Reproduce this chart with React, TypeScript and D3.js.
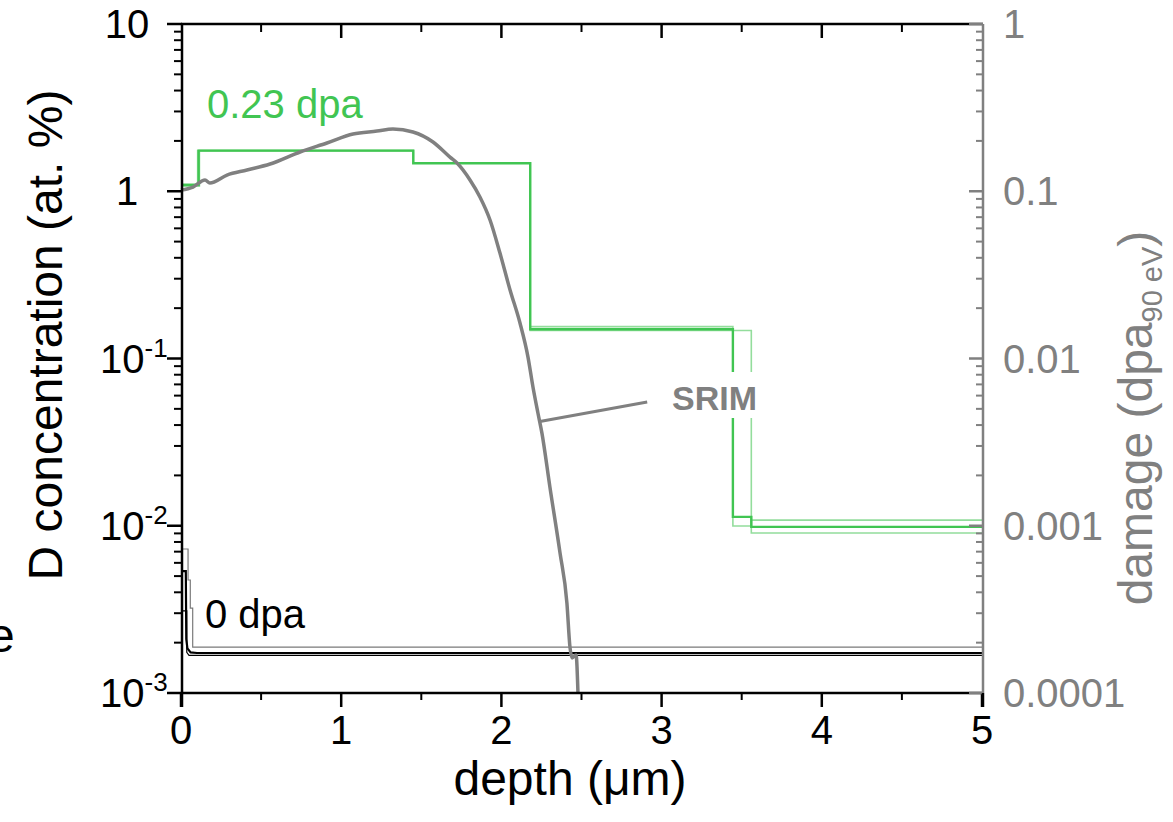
import React from "react";
import * as d3 from "d3";

// ---- data ----
const xTicks = [0, 1, 2, 3, 4, 5];
const leftTicks = [1e-3, 1e-2, 1e-1, 1, 10];
const leftExp = ["-3", "-2", "-1", "", ""];
const rightTicks = [1e-4, 1e-3, 1e-2, 1e-1, 1];
const rightLabels = ["0.0001", "0.001", "0.01", "0.1", "1"];

// 0.23 dpa (green) step profiles: depth (µm), D concentration (at.%)
const greenMainDepth = [0, 0.11, 1.45, 2.18, 3.445, 3.56, 5];
const greenMainConc = [1.09, 1.75, 1.47, 0.1495, 0.0113, 0.00985, 0.00985];
const greenADepth = [0, 0.104, 1.45, 2.18, 3.445, 3.56, 5];
const greenAConc = [1.1, 1.75, 1.47, 0.155, 0.00997, 0.0108, 0.0108];
const greenBDepth = [0, 0.115, 1.45, 2.18, 3.56, 5];
const greenBConc = [1.075, 1.75, 1.47, 0.147, 0.00905, 0.00905];

// 0 dpa (black/grey) profiles
const zeroGreyDepth = [0, 0.044, 0.058, 0.073, 5];
const zeroGreyConc = [0.00726, 0.00474, 0.00322, 0.00188, 0.00188];
const zeroThickDepth = [0, 0.03, 0.033, 0.04, 0.06, 0.1, 5];
const zeroThickConc = [0.00536, 0.00536, 0.0021, 0.00185, 0.00175, 0.001734, 0.001734];
const zeroThinDepth = [0, 0.036, 0.036, 0.05, 5];
const zeroThinConc = [0.0031, 0.0031, 0.00175, 0.00168, 0.00168];

// SRIM damage profile (dpa)
const srimDepth = [0, 0.075, 0.15, 0.18, 0.287, 0.412, 0.556, 0.743, 0.911, 1.074, 1.223, 1.323, 1.448, 1.573, 1.679, 1.723, 1.804, 1.866, 1.929, 1.991, 2.054, 2.116, 2.166, 2.197, 2.228, 2.253, 2.303, 2.366, 2.409, 2.428, 2.441, 2.466, 2.478];
const srimDamage = [0.1017, 0.106, 0.1168, 0.112, 0.125, 0.134, 0.1455, 0.1717, 0.1943, 0.22, 0.229, 0.2356, 0.226, 0.197, 0.16, 0.1475, 0.1168, 0.0924, 0.0673, 0.0427, 0.0257, 0.0163, 0.0102, 0.00676, 0.00472, 0.00358, 0.0017, 0.000687, 0.000345, 0.000188, 0.000162, 0.000169, 0.0001];

// SRIM label pointer (data coords on right axis)
const srimPointerDepth = [2.24, 2.91];
const srimPointerDamage = [0.0042, 0.0055];

const GREEN = "#41c552";
const LIGHTGREEN = "#93dd9c";
const GREY = "#808080";
const FONT = "Liberation Sans, Arial, sans-serif";

export default function App() {
  const x = d3.scaleLinear().domain([0, 5]).range([181, 982]);
  const yL = d3.scaleLog().domain([1e-3, 10]).range([693, 24]);
  const yR = d3.scaleLog().domain([1e-4, 1]).range([693, 24]);

  const zip = (a: number[], b: number[]) => a.map((v, i) => [v, b[i]] as [number, number]);
  const stepL = d3.line<[number, number]>().x(d => x(d[0])).y(d => yL(d[1])).curve(d3.curveStepAfter);
  const linL = d3.line<[number, number]>().x(d => x(d[0])).y(d => yL(d[1]));
  const smoothR = d3.line<[number, number]>().x(d => x(d[0])).y(d => yR(d[1])).curve(d3.curveMonotoneX);
  const linR = d3.line<[number, number]>().x(d => x(d[0])).y(d => yR(d[1]));

  const minorLeft: number[] = [];
  for (let e = -3; e < 1; e++) for (let k = 2; k <= 9; k++) minorLeft.push(k * Math.pow(10, e));
  const minorRight: number[] = [];
  for (let e = -4; e < 0; e++) for (let k = 2; k <= 9; k++) minorRight.push(k * Math.pow(10, e));
  const minorX = [0.5, 1.5, 2.5, 3.5, 4.5];

  return (
    <svg width={1173} height={822} style={{ position: "absolute", left: 0, top: 0, background: "#fff" }} fontFamily={FONT}>
      <rect width={1173} height={822} fill="#fff" />
      {/* 0 dpa lines */}
      <path d={stepL(zip(zeroGreyDepth, zeroGreyConc)) || ""} fill="none" stroke="#7a7a7a" strokeWidth={1.2} />
      <path d={linL(zip(zeroThinDepth, zeroThinConc)) || ""} fill="none" stroke="#000" strokeWidth={1.2} />
      <path d={linL(zip(zeroThickDepth, zeroThickConc)) || ""} fill="none" stroke="#000" strokeWidth={2.2} />
      {/* green lines */}
      <path d={stepL(zip(greenADepth, greenAConc)) || ""} fill="none" stroke={LIGHTGREEN} strokeWidth={1.6} />
      <path d={stepL(zip(greenBDepth, greenBConc)) || ""} fill="none" stroke={LIGHTGREEN} strokeWidth={1.6} />
      <path d={stepL(zip(greenMainDepth, greenMainConc)) || ""} fill="none" stroke={GREEN} strokeWidth={2.4} />
      {/* SRIM */}
      <path d={smoothR(zip(srimDepth, srimDamage)) || ""} fill="none" stroke={GREY} strokeWidth={3.5} strokeLinejoin="round" />
      <path d={linR(zip(srimPointerDepth, srimPointerDamage)) || ""} fill="none" stroke={GREY} strokeWidth={3} />
      <rect x={662} y={372} width={110} height={46} fill="#fff" />
      <text x={672} y={410} fontSize={34} fontWeight="bold" fill={GREY}>SRIM</text>

      {/* annotations */}
      <text x={207} y={118} fontSize={40} fill={GREEN}>0.23 dpa</text>
      <text x={205} y={628} fontSize={40} fill="#000">0 dpa</text>
      <text x={-12} y={652} fontSize={48} fill="#000">e</text>

      {/* top axis */}
      <line x1={181} x2={983} y1={24} y2={24} stroke="#000" strokeWidth={2.5} />
      {xTicks.slice(1, 5).map(t => <line key={"tt" + t} x1={x(t)} x2={x(t)} y1={24} y2={38} stroke="#000" strokeWidth={2.5} />)}
      {minorX.map(t => <line key={"tm" + t} x1={x(t)} x2={x(t)} y1={24} y2={32} stroke="#000" strokeWidth={2} />)}
      {/* bottom axis */}
      <line x1={181} x2={983} y1={693} y2={693} stroke="#000" strokeWidth={2.5} />
      {xTicks.map(t => <line key={"bt" + t} x1={x(t)} x2={x(t)} y1={693} y2={707} stroke="#000" strokeWidth={2.5} />)}
      {minorX.map(t => <line key={"bm" + t} x1={x(t)} x2={x(t)} y1={693} y2={700} stroke="#000" strokeWidth={2} />)}
      {xTicks.map(t => <text key={"bl" + t} x={x(t)} y={744} fontSize={40} textAnchor="middle" fill="#000">{t}</text>)}
      <text x={570} y={795} fontSize={48} textAnchor="middle" fill="#000">depth (μm)</text>

      {/* left axis */}
      <line x1={182} x2={182} y1={23} y2={707} stroke="#000" strokeWidth={2.5} />
      {leftTicks.map(t => <line key={"lt" + t} x1={167} x2={182} y1={yL(t)} y2={yL(t)} stroke="#000" strokeWidth={2.5} />)}
      {minorLeft.map(t => <line key={"lm" + t} x1={174} x2={182} y1={yL(t)} y2={yL(t)} stroke="#000" strokeWidth={2} />)}
      {leftTicks.map((t, i) =>
        leftExp[i] === "" ? (
          <text key={"ll" + t} x={127} y={yL(t) + 14} fontSize={40} textAnchor="middle" fill="#000">{t >= 10 ? "10" : "1"}</text>
        ) : (
          <text key={"ll" + t} x={100} y={yL(t) + 14} fontSize={40} fill="#000">10<tspan fontSize={26} dy={-16}>{leftExp[i]}</tspan></text>
        )
      )}
      <text transform="translate(62,335) rotate(-90)" fontSize={48} textAnchor="middle" fill="#000">D concentration (at. %)</text>

      {/* right axis */}
      <line x1={983} x2={983} y1={24} y2={693} stroke={GREY} strokeWidth={2.5} />
      {rightTicks.map(t => <line key={"rt" + t} x1={969} x2={983} y1={yR(t)} y2={yR(t)} stroke={GREY} strokeWidth={2.5} />)}
      {minorRight.map(t => <line key={"rm" + t} x1={976} x2={983} y1={yR(t)} y2={yR(t)} stroke={GREY} strokeWidth={2} />)}
      {rightTicks.map((t, i) => <text key={"rl" + t} x={1003} y={yR(t) + 14} fontSize={40} fill={GREY}>{rightLabels[i]}</text>)}
      <text transform="translate(1152,418) rotate(-90)" fontSize={48} textAnchor="middle" fill={GREY}>damage (dpa<tspan fontSize={29} dy={10}>90 eV</tspan><tspan dy={-10}>)</tspan></text>
      <line x1={983} x2={983} y1={693} y2={707} stroke="#000" strokeWidth={2.5} />
    </svg>
  );
}
